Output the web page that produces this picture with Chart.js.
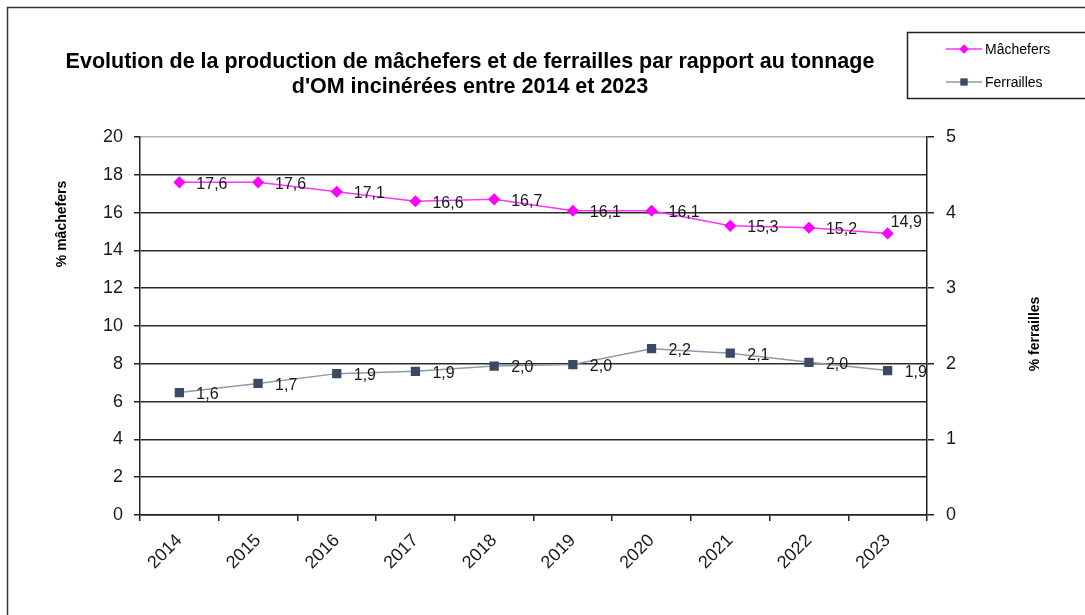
<!DOCTYPE html>
<html lang="fr">
<head>
    <meta charset="UTF-8">
    <title>Mâchefers et ferrailles</title>
    <script src="https://cdn.jsdelivr.net/npm/chart.js"></script>
    <style>
        html, body { margin: 0; padding: 0; background: #fff; }
        #wrap { position: relative; width: 1085px; height: 615px; }
    </style>
</head>
<body>
    <div id="wrap">
        <canvas id="chart" width="1085" height="615"></canvas>
    </div>

    <script>
        const years = ['2014', '2015', '2016', '2017', '2018', '2019', '2020', '2021', '2022', '2023'];
        const machefers = [17.6, 17.6, 17.1, 16.6, 16.7, 16.1, 16.1, 15.3, 15.2, 14.9];
        const ferrailles = [1.62, 1.74, 1.87, 1.90, 1.97, 1.99, 2.20, 2.14, 2.02, 1.91];
        const leftTicks = [0, 2, 4, 6, 8, 10, 12, 14, 16, 18, 20];
        const rightTicks = [0, 1, 2, 3, 4, 5];

        const titleLines = [
            "Evolution de la production de mâchefers et de ferrailles par rapport au tonnage",
            "d'OM incinérées entre 2014 et 2023"
        ];

        const FONT = '"Liberation Sans", Arial, sans-serif';

        // titles, axis titles, legend box, outer frame and value labels
        const decorations = {
            id: 'decorations',
            afterDatasetsDraw(chart) {
                const ctx = chart.ctx;
                ctx.save();

                // value labels
                ctx.font = '16px ' + FONT;
                ctx.fillStyle = '#1a1a1a';
                ctx.textAlign = 'left';
                ctx.textBaseline = 'middle';
                chart.data.datasets.forEach((ds, di) => {
                    const meta = chart.getDatasetMeta(di);
                    meta.data.forEach((pt, i) => {
                        const txt = ds.data[i].toFixed(1).replace('.', ',');
                        let dx = 17, dy = 2;
                        if (di === 0 && i === ds.data.length - 1) { dx = 3; dy = -11; }
                        ctx.fillText(txt, pt.x + dx, pt.y + dy);
                    });
                });

                // main title
                ctx.font = 'bold 21.5px ' + FONT;
                ctx.fillStyle = '#000';
                ctx.textAlign = 'center';
                ctx.fillText(titleLines[0], 470, 62);
                ctx.fillText(titleLines[1], 470, 87);

                // axis titles
                ctx.font = 'bold 14px ' + FONT;
                ctx.save();
                ctx.translate(62, 224);
                ctx.rotate(-Math.PI / 2);
                ctx.fillText('% mâchefers', 0, 0);
                ctx.restore();
                ctx.save();
                ctx.translate(1035, 334);
                ctx.rotate(-Math.PI / 2);
                ctx.fillText('% ferrailles', 0, 0);
                ctx.restore();

                // outer frame (left and top edges are the only ones in view)
                ctx.strokeStyle = '#333';
                ctx.lineWidth = 1.5;
                ctx.strokeRect(7.5, 7.5, 1120, 640);

                // legend box
                ctx.fillStyle = '#fff';
                ctx.fillRect(907, 32, 200, 66);
                ctx.strokeStyle = '#222';
                ctx.strokeRect(907.5, 32.5, 200, 66);
                const items = [
                    { label: 'Mâchefers', ds: chart.data.datasets[0], y: 49 },
                    { label: 'Ferrailles', ds: chart.data.datasets[1], y: 82 }
                ];
                items.forEach(it => {
                    ctx.strokeStyle = it.ds.borderColor;
                    ctx.lineWidth = 1.5;
                    ctx.beginPath();
                    ctx.moveTo(946, it.y);
                    ctx.lineTo(982, it.y);
                    ctx.stroke();
                    Chart.helpers.drawPoint(ctx, {
                        pointStyle: it.ds.pointStyle,
                        radius: it.ds.pointStyle === 'rect' ? 4 : 3.5,
                        borderWidth: 1
                    }, 964, it.y);
                    ctx.fillStyle = it.ds.pointBackgroundColor;
                    ctx.strokeStyle = it.ds.pointBorderColor;
                    ctx.fill();
                    ctx.stroke();
                    ctx.fillStyle = '#000';
                    ctx.font = '14px ' + FONT;
                    ctx.textAlign = 'left';
                    ctx.textBaseline = 'middle';
                    ctx.fillText(it.label, 985, it.y + 1);
                });

                ctx.restore();
            }
        };

        const ctx = document.getElementById('chart').getContext('2d');
        new Chart(ctx, {
            type: 'line',
            data: {
                labels: years,
                datasets: [
                    {
                        label: 'Mâchefers',
                        data: machefers,
                        yAxisID: 'y',
                        borderColor: '#ff33ff',
                        borderWidth: 1.5,
                        pointStyle: 'rectRot',
                        pointRadius: 5,
                        pointBackgroundColor: '#ff00ff',
                        pointBorderColor: '#ff00ff',
                        tension: 0
                    },
                    {
                        label: 'Ferrailles',
                        data: ferrailles,
                        yAxisID: 'y1',
                        borderColor: '#8e9aac',
                        borderWidth: 1.5,
                        pointStyle: 'rect',
                        pointRadius: 5.5,
                        pointBackgroundColor: '#3b4963',
                        pointBorderColor: '#3b4963',
                        tension: 0
                    }
                ]
            },
            options: {
                responsive: false,
                animation: false,
                layout: { padding: { top: 137, left: 0, right: 0, bottom: 0 } },
                plugins: {
                    legend: { display: false },
                    title: { display: false },
                    tooltip: { enabled: false }
                },
                scales: {
                    x: {
                        offset: true,
                        grid: {
                            offset: true,
                            drawOnChartArea: false,
                            drawTicks: true,
                            tickLength: 6,
                            color: '#222',
                            lineWidth: 1.5
                        },
                        border: { color: '#222', width: 1.5 },
                        ticks: {
                            color: '#1a1a1a',
                            font: { family: FONT, size: 18 },
                            minRotation: 45,
                            maxRotation: 45,
                            padding: 9
                        },
                        afterFit(scale) { scale.height = 100; }
                    },
                    y: {
                        position: 'left',
                        min: leftTicks[0],
                        max: leftTicks[leftTicks.length - 1],
                        afterBuildTicks(scale) { scale.ticks = leftTicks.map(v => ({ value: v })); },
                        grid: {
                            color: c => (c.tick && c.tick.value === 20 ? '#b5b5b5' : '#2b2b2b'),
                            lineWidth: 1.5,
                            tickLength: 6,
                            tickColor: '#222'
                        },
                        border: { color: '#222', width: 1.5 },
                        ticks: {
                            color: '#1a1a1a',
                            font: { family: FONT, size: 18 },
                            padding: 11
                        },
                        afterFit(scale) { scale.width = 140; }
                    },
                    y1: {
                        position: 'right',
                        min: rightTicks[0],
                        max: rightTicks[rightTicks.length - 1],
                        afterBuildTicks(scale) { scale.ticks = rightTicks.map(v => ({ value: v })); },
                        grid: {
                            drawOnChartArea: false,
                            lineWidth: 1.5,
                            tickLength: 7,
                            color: '#222'
                        },
                        border: { color: '#222', width: 1.5 },
                        ticks: {
                            color: '#1a1a1a',
                            font: { family: FONT, size: 18 },
                            padding: 12
                        },
                        afterFit(scale) { scale.width = 158; }
                    }
                }
            },
            plugins: [decorations]
        });
    </script>
</body>
</html>
